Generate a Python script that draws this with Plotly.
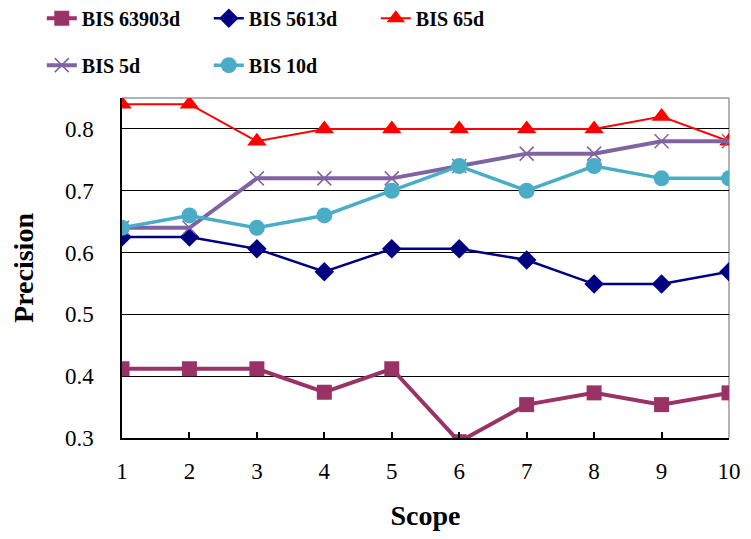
import plotly.graph_objects as go

scope = [1, 2, 3, 4, 5, 6, 7, 8, 9, 10]
bis_63903d = [0.412, 0.412, 0.412, 0.374, 0.412, 0.294, 0.354, 0.373, 0.354, 0.373]
bis_5613d = [0.625, 0.625, 0.606, 0.569, 0.606, 0.606, 0.588, 0.549, 0.549, 0.569]
bis_65d = [0.84, 0.84, 0.78, 0.80, 0.80, 0.80, 0.80, 0.80, 0.82, 0.78]
bis_5d = [0.64, 0.64, 0.72, 0.72, 0.72, 0.74, 0.76, 0.76, 0.78, 0.78]
bis_10d = [0.64, 0.66, 0.64, 0.66, 0.70, 0.74, 0.70, 0.74, 0.72, 0.72]
y_ticks = [0.3, 0.4, 0.5, 0.6, 0.7, 0.8]

FONT = "Liberation Serif"

series = [
    ("BIS 63903d", bis_63903d, "#993366", 4, "square", 15, "legend"),
    ("BIS 5613d", bis_5613d, "#000080", 2.5, "diamond", 15, "legend"),
    ("BIS 65d", bis_65d, "#FF0000", 2, "triangle-up", 17, "legend"),
    ("BIS 5d", bis_5d, "#8064A2", 4, "x-thin", 14, "legend2"),
    ("BIS 10d", bis_10d, "#4BACC6", 3.5, "circle", 16, "legend2"),
]

fig = go.Figure()
for name, ys, col, lw, sym, ms, lg in series:
    marker = dict(symbol=sym, size=ms, color=col)
    if sym == "x-thin":
        marker["line"] = dict(color=col, width=1.5)
    fig.add_trace(go.Scatter(
        x=scope, y=ys, name=name, mode="lines+markers",
        line=dict(color=col, width=lw), marker=marker, legend=lg,
    ))

legend_common = dict(
    orientation="h", xanchor="left", yanchor="middle",
    xref="container", yref="container",
    font=dict(family=FONT, size=20, color="black", weight="bold"),
    entrywidth=122, entrywidthmode="pixels", bgcolor="rgba(0,0,0,0)",
    itemwidth=30, borderwidth=0,
)

fig.update_layout(
    width=751, height=539,
    margin=dict(l=114, r=30, t=90, b=109, autoexpand=False),
    paper_bgcolor="white", plot_bgcolor="white",
    font=dict(family=FONT, color="black"),
    legend=dict(x=0.045, y=0.981, **legend_common),
    legend2=dict(x=0.045, y=0.894, **legend_common),
    xaxis=dict(
        range=[1, 10], tickvals=scope, ticktext=[str(v) for v in scope],
        ticks="inside", ticklen=6, tickcolor="black", tickwidth=1.5,
        showline=True, linecolor="black", linewidth=1.5,
        showgrid=False, zeroline=False,
        tickfont=dict(family=FONT, size=23, color="black"),
        ticklabelstandoff=12,
        title=dict(text="Scope", font=dict(family=FONT, size=28, color="black", weight="bold"), standoff=22),
    ),
    yaxis=dict(
        range=[0.3, 0.85], tickvals=y_ticks, tickformat=".1f",
        ticks="", showline=True, linecolor="black", linewidth=1.5,
        showgrid=True, gridcolor="black", gridwidth=1.2, zeroline=False,
        tickfont=dict(family=FONT, size=23, color="black"),
        ticklabelstandoff=22,
        title=dict(text="Precision", font=dict(family=FONT, size=28, color="black", weight="bold"), standoff=32),
    ),
    shapes=[
        dict(type="line", xref="paper", yref="paper", x0=0, x1=1, y0=1, y1=1,
             line=dict(color="#999999", width=1.5), layer="below"),
        dict(type="line", xref="paper", yref="paper", x0=1, x1=1, y0=0, y1=1,
             line=dict(color="#999999", width=1.5), layer="below"),
    ],
)

fig.write_html("out.html")
